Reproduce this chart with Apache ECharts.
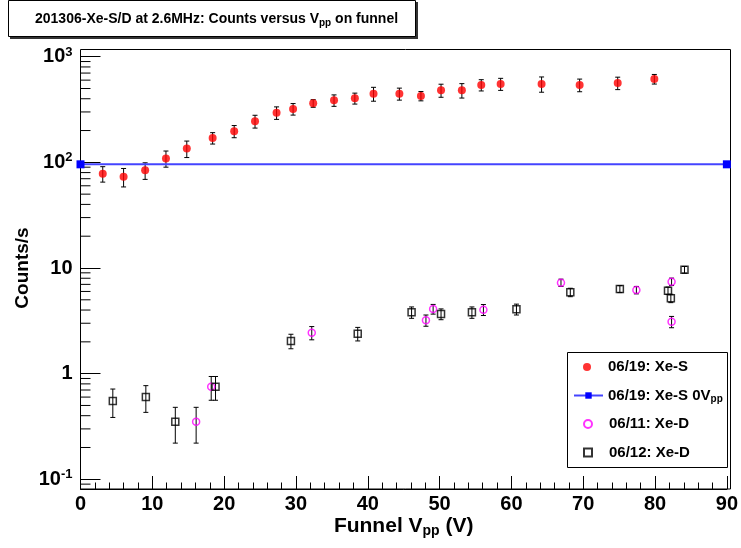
<!DOCTYPE html>
<html><head><meta charset="utf-8">
<script src="https://cdn.jsdelivr.net/npm/echarts@6/dist/echarts.min.js"></script>
<style>html,body{margin:0;padding:0;background:#fff}#c{width:741px;height:548px}</style>
</head><body><div id="c"></div>
<script>
// ---- data ----
const xeS0619X = [3.1, 6.0, 9.0, 11.9, 14.8, 18.4, 21.4, 24.3, 27.3, 29.6, 32.4, 35.3, 38.2, 40.8, 44.4, 47.4, 50.2, 53.1, 55.8, 58.5, 64.2, 69.5, 74.8, 79.9];
const xeS0619Y = [78, 73, 84, 109, 135, 170, 197, 245, 295, 320, 362, 387, 404, 446, 446, 425, 481, 481, 540, 552, 552, 540, 564, 615];
const xeS0619Err = [13, 14.5, 15, 19, 24, 21, 26, 34, 40, 40, 30, 48, 48, 67, 58, 43, 68, 75, 66, 72, 91, 74, 76, 64];

const xeS0VX = [0, 90];
const xeS0VY = [95.8, 95.8];

const xeD0611X = [16.1, 18.2, 32.2, 48.1, 49.1, 56.1, 66.9, 77.4, 82.3, 82.3];
const xeD0611Y = [0.35, 0.75, 2.44, 3.20, 4.09, 4.03, 7.26, 6.19, 7.42, 3.10];
const xeD0611Err = [0.13, 0.19, 0.35, 0.39, 0.43, 0.48, 0.58, 0.5, 0.6, 0.38];

const xeD0612X = [4.5, 9.1, 13.2, 18.8, 29.3, 38.6, 46.1, 50.2, 54.5, 60.7, 68.2, 75.1, 81.8, 82.2, 84.1];
const xeD0612Y = [0.55, 0.60, 0.35, 0.75, 2.04, 2.39, 3.81, 3.67, 3.81, 4.07, 5.89, 6.33, 6.10, 5.17, 9.64];
const xeD0612Err = [0.165, 0.17, 0.13, 0.19, 0.32, 0.35, 0.47, 0.43, 0.47, 0.48, 0.54, 0.48, 0.5, 0.47, 0.7];

const seriesNames = ['06/19: Xe-S', '06/19: Xe-S 0V{sub|pp}', '06/11: Xe-D', '06/12: Xe-D'];
const yTickValues = [0.1, 1, 10, 100, 1000];
const yTickLabels = ['{b|10}{sup|-1}', '1', '10', '{b|10}{sup|2}', '{b|10}{sup|3}'];
const yMinorTicks = [0.09, 0.2, 0.3, 0.4, 0.5, 0.6, 0.7, 0.8, 0.9, 2, 3, 4, 5, 6, 7, 8, 9, 20, 30, 40, 50, 60, 70, 80, 90, 200, 300, 400, 500, 600, 700, 800, 900];
const titleText = '201306-Xe-S/D at 2.6MHz: Counts versus V{sub|pp} on funnel';
const xTitle = 'Funnel V{sub|pp} (V)';
const yTitle = 'Counts/s';

// ---- build ----
const zip3 = (a, b, c) => a.map((v, i) => c ? [v, b[i], c[i]] : [v, b[i]]);
const AXF = '"Liberation Sans", Arial, sans-serif';
const TF = '"Liberation Sans", Arial, sans-serif';

function errRender(params, api) {
  const x = api.value(0), y = api.value(1), e = api.value(2);
  const hi = api.coord([x, y + e]);
  const lo = api.coord([x, y - e]);
  const w = 2.5;
  const st = {stroke: '#000', lineWidth: 1};
  return {type: 'group', children: [
    {type: 'line', shape: {x1: hi[0], y1: hi[1], x2: lo[0], y2: lo[1]}, style: st},
    {type: 'line', shape: {x1: hi[0] - w, y1: hi[1], x2: hi[0] + w, y2: hi[1]}, style: st},
    {type: 'line', shape: {x1: lo[0] - w, y1: lo[1], x2: lo[0] + w, y2: lo[1]}, style: st}
  ]};
}
function minorRender(params, api) {
  const p = api.coord([0, api.value(1)]);
  return {type: 'line', shape: {x1: p[0], y1: p[1], x2: p[0] + 10, y2: p[1]}, style: {stroke: '#000', lineWidth: 1}};
}

const subRich = (fs) => ({
  sub: {fontSize: fs, fontWeight: 'bold', fontFamily: TF, color: '#000', padding: [Math.round(fs * 0.7), 0, 0, 0]}
});

const legendRows = [368.5, 397, 425.5, 454];
const legends = seriesNames.map((n, i) => {
  const isLine = i === 1;
  return {
    data: [n], orient: 'vertical', left: isLine ? 573 : 583, top: legendRows[i] - 9, padding: 0,
    itemWidth: isLine ? 29 : 8, itemHeight: 8, itemGap: 6, selectedMode: false,
    textStyle: {fontFamily: TF, fontSize: 15, fontWeight: 'bold', color: '#000',
      padding: isLine ? [0, 0, 0, 0] : [0, 0, 0, 12], rich: subRich(10)}
  };
});

const chart = echarts.init(document.getElementById('c'), null, {renderer: 'canvas'});
chart.setOption({
  animation: false,
  backgroundColor: '#fff',
  title: {
    text: titleText, left: 35, top: 11, padding: 0,
    textStyle: {fontFamily: TF, fontSize: 14, fontWeight: 'bold', color: '#000', rich: subRich(10)}
  },
  legend: legends,
  grid: {left: 80.5, right: 10.5, top: 56.7, bottom: 68.7, containLabel: false},
  xAxis: {
    type: 'value', min: 0, max: 90, interval: 10, offset: 9.7,
    axisLine: {show: true, lineStyle: {color: '#000', width: 1}},
    axisTick: {show: true, inside: true, length: 13, lineStyle: {color: '#000'}},
    minorTick: {show: true, splitNumber: 5, length: 6.5, lineStyle: {color: '#000'}},
    splitLine: {show: false},
    axisLabel: {fontFamily: AXF, fontSize: 20, fontWeight: 'bold', color: '#000', margin: 5},
    name: xTitle, nameLocation: 'middle', nameGap: 26, nameMoveOverlap: false,
    nameTextStyle: {fontFamily: AXF, fontSize: 21, fontWeight: 'bold', color: '#000', rich: {
      sub: {fontFamily: AXF, fontSize: 14, fontWeight: 'bold', color: '#000', padding: [9, 0, 0, 0]}
    }}
  },
  yAxis: {
    type: 'log', logBase: 10, min: 0.1, max: 1000, splitNumber: 4,
    axisLine: {show: true, lineStyle: {color: '#000', width: 1}},
    axisTick: {show: true, inside: true, length: 20, lineStyle: {color: '#000'}},
    splitLine: {show: false},
    axisLabel: {
      fontFamily: AXF, fontSize: 20, fontWeight: 'bold', color: '#000', margin: 8,
      formatter: (v) => {
        const k = yTickValues.findIndex(t => Math.abs(Math.log10(t) - Math.log10(v)) < 1e-6);
        return k >= 0 ? yTickLabels[k] : '';
      },
      rich: {
        b: {fontFamily: AXF, fontSize: 20, fontWeight: 'bold', color: '#000'},
        sup: {fontFamily: AXF, fontSize: 13, fontWeight: 'bold', color: '#000', padding: [0, 0, 9, 0]}
      }
    },
    name: yTitle, nameLocation: 'middle', nameGap: 48, nameMoveOverlap: false,
    nameTextStyle: {fontFamily: AXF, fontSize: 19, fontWeight: 'bold', color: '#000'}
  },
  graphic: [
    {type: 'rect', shape: {x: 80.5, y: 49.5, width: 650, height: 439.5}, style: {fill: null, stroke: '#000', lineWidth: 1}, z: 0, silent: true},
    {type: 'rect', shape: {x: 10, y: 2, width: 408, height: 37}, style: {fill: '#333'}, z: 0, silent: true},
    {type: 'rect', shape: {x: 8.5, y: 0.5, width: 407, height: 36}, style: {fill: '#fff', stroke: '#000', lineWidth: 1}, z: 0, silent: true},
    {type: 'rect', shape: {x: 567.5, y: 352.5, width: 160, height: 115}, style: {fill: '#fff', stroke: '#000', lineWidth: 1}, z: 0, silent: true}
  ],
  series: [
    {type: 'custom', data: yMinorTicks.map(v => [0, v]), renderItem: minorRender, silent: true, z: 1},
    {type: 'custom', data: zip3(xeS0619X, xeS0619Y, xeS0619Err), renderItem: errRender, silent: true, z: 2},
    {type: 'custom', data: zip3(xeD0611X, xeD0611Y, xeD0611Err), renderItem: errRender, silent: true, z: 2},
    {type: 'custom', data: zip3(xeD0612X, xeD0612Y, xeD0612Err), renderItem: errRender, silent: true, z: 2},
    {name: seriesNames[1], type: 'line', data: zip3(xeS0VX, xeS0VY), clip: false, symbol: 'rect', symbolSize: 8,
      lineStyle: {color: '#4444ff', width: 2}, itemStyle: {color: '#0000ff'}, z: 3},
    {name: seriesNames[0], type: 'scatter', data: zip3(xeS0619X, xeS0619Y), symbol: 'circle', symbolSize: 8,
      itemStyle: {color: '#ff0000'}, z: 4},
    {name: seriesNames[2], type: 'scatter', data: zip3(xeD0611X, xeD0611Y), symbol: 'circle', symbolSize: 7,
      itemStyle: {color: 'rgba(255,255,255,0)', borderColor: '#ff00ff', borderWidth: 1.5}, z: 4},
    {name: seriesNames[3], type: 'scatter', data: zip3(xeD0612X, xeD0612Y), symbol: 'rect', symbolSize: 7,
      itemStyle: {color: 'rgba(255,255,255,0)', borderColor: '#000', borderWidth: 1.5}, z: 4}
  ]
});
</script></body></html>
